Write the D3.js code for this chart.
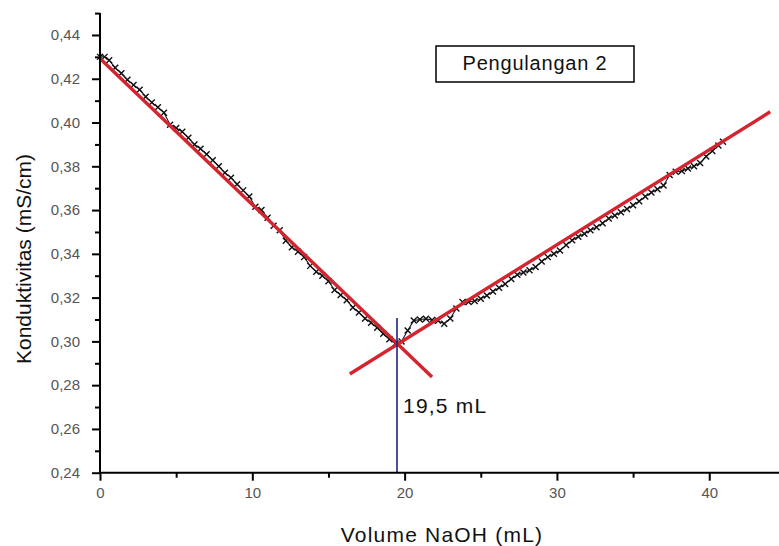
<!DOCTYPE html>
<html>
<head>
<meta charset="utf-8">
<script src="https://cdn.jsdelivr.net/npm/d3@7"></script>
<style>
  html, body { margin: 0; padding: 0; background: #ffffff; }
  svg { display: block; }
  text { font-family: "Liberation Sans", Arial, sans-serif; }
</style>
</head>
<body>
<svg id="chart" width="779" height="546"></svg>
<script>
// Conductometric titration, run 2: conductivity vs. added NaOH volume
const volume = [
  0.0, 0.3, 0.6, 1.0, 1.4, 1.8, 2.2, 2.6, 3.0, 3.4, 3.8, 4.2, 4.6, 5.0, 5.4, 5.8,
  6.2, 6.6, 7.0, 7.4, 7.8, 8.2, 8.6, 9.0, 9.4, 9.8, 10.2, 10.6, 11.0, 11.4, 11.8,
  12.2, 12.6, 13.0, 13.4, 13.8, 14.2, 14.6, 15.0, 15.4, 15.8, 16.2, 16.6, 17.0,
  17.4, 17.8, 18.2, 18.6, 19.0, 19.4, 19.8, 20.2, 20.6, 21.0, 21.4, 21.8, 22.2,
  22.6, 23.0, 23.4, 23.8, 24.2, 24.6, 25.0, 25.4, 25.8, 26.2, 26.6, 27.0, 27.4,
  27.8, 28.2, 28.6, 29.0, 29.4, 29.8, 30.2, 30.6, 31.0, 31.4, 31.8, 32.2, 32.6,
  33.0, 33.4, 33.8, 34.2, 34.6, 35.0, 35.4, 35.8, 36.2, 36.6, 37.0, 37.4, 37.8,
  38.2, 38.6, 39.0, 39.4, 39.8, 40.2, 40.6, 40.9
];
const conductivity = [
  0.4300, 0.4300, 0.4285, 0.4250, 0.4225, 0.4195, 0.4172, 0.4150, 0.4118, 0.4092,
  0.4070, 0.4045, 0.3990, 0.3975, 0.3958, 0.3930, 0.3900, 0.3880, 0.3855, 0.3828,
  0.3800, 0.3770, 0.3748, 0.3718, 0.3690, 0.3662, 0.3615, 0.3600, 0.3565, 0.3528,
  0.3508, 0.3460, 0.3430, 0.3410, 0.3385, 0.3345, 0.3318, 0.3300, 0.3275, 0.3235,
  0.3212, 0.3188, 0.3155, 0.3132, 0.3105, 0.3085, 0.3062, 0.3035, 0.3010, 0.2990,
  0.3000, 0.3050, 0.3095, 0.3100, 0.3103, 0.3098, 0.3094, 0.3081, 0.3105, 0.3150,
  0.3180, 0.3180, 0.3185, 0.3195, 0.3210, 0.3228, 0.3245, 0.3262, 0.3285, 0.3305,
  0.3315, 0.3325, 0.3340, 0.3365, 0.3385, 0.3400, 0.3415, 0.3440, 0.3462, 0.3478,
  0.3492, 0.3508, 0.3522, 0.3540, 0.3562, 0.3575, 0.3590, 0.3605, 0.3622, 0.3640,
  0.3662, 0.3680, 0.3695, 0.3712, 0.3760, 0.3775, 0.3778, 0.3790, 0.3800, 0.3815,
  0.3845, 0.3870, 0.3895, 0.3912
];

// Linear fits of the two branches (end points)
const fitAcidX = [0, 21.8];
const fitAcidY = [0.4293, 0.2837];
const fitBaseX = [16.4, 44.0];
const fitBaseY = [0.2851, 0.4049];

// Equivalence point
const equivalenceVolume = 19.5;
const equivalenceTop = 0.3107;
const equivalenceLabel = "19,5 mL";

const legendLabel = "Pengulangan 2";
const xTitle = "Volume NaOH (mL)";
const yTitle = "Konduktivitas (mS/cm)";

const xMajorTicks = [0, 10, 20, 30, 40];
const xMinorTicks = [5, 15, 25, 35];
const yMajorTicks = [0.24, 0.26, 0.28, 0.30, 0.32, 0.34, 0.36, 0.38, 0.40, 0.42, 0.44];
const yMinorTicks = [0.25, 0.27, 0.29, 0.31, 0.33, 0.35, 0.37, 0.39, 0.41, 0.43, 0.45];

const svg = d3.select("#chart");

const x = d3.scaleLinear().domain([0, 45]).range([100, 785.4]);
const y = d3.scaleLinear().domain([0.24, 0.45]).range([472.7, 13.1]);

const points = volume.map((v, i) => [v, conductivity[i]]);

// measured curve
svg.append("path")
  .datum(points)
  .attr("fill", "none")
  .attr("stroke", "#1c1c1c")
  .attr("stroke-width", 1.1)
  .attr("d", d3.line().x(d => x(d[0])).y(d => y(d[1])));

// small "x" marker
const timesSymbol = {
  draw(context, size) {
    const r = Math.sqrt(size) / 2;
    context.moveTo(-r, -r); context.lineTo(r, r);
    context.moveTo(r, -r); context.lineTo(-r, r);
  }
};
svg.append("g")
  .selectAll("path")
  .data(points)
  .join("path")
  .attr("transform", d => `translate(${x(d[0])},${y(d[1])})`)
  .attr("d", d3.symbol().type(timesSymbol).size(36))
  .attr("fill", "none")
  .attr("stroke", "#111")
  .attr("stroke-width", 1.4);

// fit lines
const fitLine = d3.line().x(d => x(d[0])).y(d => y(d[1]));
[[fitAcidX, fitAcidY], [fitBaseX, fitBaseY]].forEach(([fx, fy]) => {
  svg.append("path")
    .datum(fx.map((v, i) => [v, fy[i]]))
    .attr("fill", "none")
    .attr("stroke", "#d32430")
    .attr("stroke-width", 3.4)
    .attr("d", fitLine);
});

// equivalence marker line
svg.append("line")
  .attr("x1", x(equivalenceVolume)).attr("x2", x(equivalenceVolume))
  .attr("y1", y(equivalenceTop)).attr("y2", y(0.24))
  .attr("stroke", "#23237a")
  .attr("stroke-width", 1.6);

svg.append("text")
  .attr("x", x(equivalenceVolume) + 6)
  .attr("y", 413)
  .attr("font-size", 21)
  .attr("letter-spacing", 1.2)
  .attr("fill", "#111")
  .text(equivalenceLabel);

// axes
const fmt = d => d3.format(".2f")(d).replace(".", ",");

const yAxis = svg.append("g")
  .attr("transform", "translate(100,0)")
  .call(d3.axisLeft(y).tickValues(yMajorTicks).tickFormat(fmt).tickSize(8).tickPadding(12));
svg.append("g")
  .attr("transform", "translate(100,0)")
  .call(d3.axisLeft(y).tickValues(yMinorTicks).tickFormat("").tickSize(5))
  .call(g => g.select(".domain").remove())
  .selectAll("line").attr("stroke-width", 2);

const xAxis = svg.append("g")
  .attr("transform", `translate(0,${y(0.24)})`)
  .call(d3.axisBottom(x).tickValues(xMajorTicks).tickFormat(d3.format("d")).tickSize(8).tickPadding(7));
svg.append("g")
  .attr("transform", `translate(0,${y(0.24)})`)
  .call(d3.axisBottom(x).tickValues(xMinorTicks).tickFormat("").tickSize(5))
  .call(g => g.select(".domain").remove())
  .selectAll("line").attr("stroke-width", 2);

[yAxis, xAxis].forEach(g => {
  g.select(".domain").attr("stroke", "#000").attr("stroke-width", 2);
  g.selectAll(".tick line").attr("stroke", "#000").attr("stroke-width", 2);
  g.selectAll(".tick text")
    .attr("font-family", "'Liberation Sans', Arial, sans-serif")
    .attr("font-size", 15)
    .attr("fill", "#555");
});
yAxis.select(".domain").attr("d", `M0,${y(0.45)}V${y(0.24)}`);
xAxis.select(".domain").attr("d", `M${x(0)},0H779`);

// axis titles
svg.append("text")
  .attr("x", 442)
  .attr("y", 542)
  .attr("text-anchor", "middle")
  .attr("font-size", 21)
  .attr("letter-spacing", 1.2)
  .attr("fill", "#111")
  .text(xTitle);

svg.append("text")
  .attr("transform", "translate(31,259) rotate(-90)")
  .attr("text-anchor", "middle")
  .attr("font-size", 21)
  .attr("fill", "#111")
  .text(yTitle);

// legend box
svg.append("rect")
  .attr("x", 436).attr("y", 46)
  .attr("width", 198).attr("height", 36)
  .attr("fill", "#fff")
  .attr("stroke", "#000")
  .attr("stroke-width", 1.5);
svg.append("text")
  .attr("x", 535)
  .attr("y", 70)
  .attr("text-anchor", "middle")
  .attr("font-size", 20)
  .attr("letter-spacing", 0.8)
  .attr("fill", "#111")
  .text(legendLabel);
</script>
</body>
</html>
